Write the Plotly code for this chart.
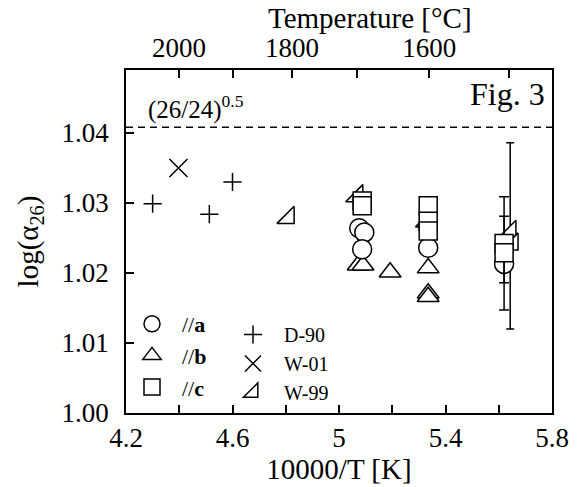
import plotly.graph_objects as go

# ---------------- data ----------------
x_tickvals = [4.2, 4.4, 4.6, 4.8, 5.0, 5.2, 5.4, 5.6, 5.8]
x_ticktext = ["4.2", "", "4.6", "", "5", "", "5.4", "", "5.8"]
y_tickvals = [1.00, 1.01, 1.02, 1.03, 1.04]
y_ticktext = ["1.00", "1.01", "1.02", "1.03", "1.04"]
top_temps_c = [2000, 1900, 1800, 1700, 1600, 1500]
top_ticktext = ["2000", "", "1800", "", "1600", ""]

# //a (circles)
a_x = [5.076, 5.095, 5.087, 5.335, 5.62]
a_y = [1.0264, 1.0258, 1.0234, 1.0236, 1.0213]
# //b (triangles)
b_x = [5.072, 5.09, 5.192, 5.335, 5.335, 5.335]
b_y = [1.0211, 1.0211, 1.0201, 1.0207, 1.0171, 1.0166]
# //c (squares)
c_x = [5.087, 5.087, 5.335, 5.335, 5.335]
c_y = [1.0303, 1.0296, 1.0296, 1.0274, 1.0260]
# //c with error bars
c_err_x = [5.62, 5.62]
c_err_y = [1.0242, 1.0229]
c_err_plus = [0.0067, 0.0052]
c_err_minus = [0.0095, 0.0043]
# D-90
d90_x = [4.30, 4.513, 4.60]
d90_y = [1.0299, 1.0284, 1.0330]
# W-01
w01_x = [4.397]
w01_y = [1.0350]
# W-99
w99_x = [4.81, 5.068, 5.33, 5.651]
w99_y = [1.0279, 1.0310, 1.0274, 1.0241]
# W-99 with error bar
w99_err_x = [5.643]
w99_err_y = [1.0259]
w99_err_plus = [0.0127]
w99_err_minus = [0.0139]

ratio_label = "(26/24)<sup>0.5</sup>"
ratio_value = (26 / 24) ** 0.5

FONT = "Liberation Serif, Times New Roman, serif"
W, H = 581, 487
ML, MR, MT, MB = 126, 29, 70, 74
PW, PH = W - ML - MR, H - MT - MB

def px_x(p):
    return (p - ML) / PW

def px_y(p):
    return (H - MB - p) / PH

def mk(symbol, size):
    return dict(symbol=symbol, size=size, color="white",
                line=dict(color="black", width=1.5))

fig = go.Figure()

# W-99 with error bar (drawn first)
fig.add_trace(go.Scatter(
    x=w99_err_x, y=w99_err_y, mode="markers", showlegend=False,
    marker=mk("triangle-se", 19),
    error_y=dict(type="data", array=w99_err_plus, arrayminus=w99_err_minus,
                 color="black", thickness=1.5, width=4)))
fig.add_trace(go.Scatter(
    x=w99_x, y=w99_y, mode="markers", name="W-99", legend="legend2",
    legendrank=3, marker=mk("triangle-se", 19)))
fig.add_trace(go.Scatter(
    x=d90_x, y=d90_y, mode="markers", name="D-90", legend="legend2",
    legendrank=1,
    marker=dict(symbol="cross-thin-open", size=13, color="black",
                line=dict(color="black", width=1.5))))
fig.add_trace(go.Scatter(
    x=w01_x, y=w01_y, mode="markers", name="W-01", legend="legend2",
    legendrank=2,
    marker=dict(symbol="x-thin-open", size=18, color="black",
                line=dict(color="black", width=1.5))))
fig.add_trace(go.Scatter(
    x=b_x, y=b_y, mode="markers", name="//<b>b</b>", legend="legend",
    legendrank=2, marker=mk("triangle-up", 19)))
fig.add_trace(go.Scatter(
    x=a_x, y=a_y, mode="markers", name="//<b>a</b>", legend="legend",
    legendrank=1, marker=mk("circle", 19)))
fig.add_trace(go.Scatter(
    x=c_err_x, y=c_err_y, mode="markers", showlegend=False,
    marker=mk("square", 18),
    error_y=dict(type="data", array=c_err_plus, arrayminus=c_err_minus,
                 color="black", thickness=1.5, width=5)))
fig.add_trace(go.Scatter(
    x=c_x, y=c_y, mode="markers", name="//<b>c</b>", legend="legend",
    legendrank=3, marker=mk("square", 18)))

# invisible trace for top axis
top_vals = [10000 / (t + 273.15) for t in top_temps_c]
fig.add_trace(go.Scatter(x=[4.2], y=[1.0], xaxis="x2", mode="markers",
                         marker=dict(opacity=0), showlegend=False,
                         hoverinfo="skip"))

fig.add_shape(type="line", xref="x", yref="y", x0=4.2, x1=5.8,
              y0=ratio_value, y1=ratio_value,
              line=dict(color="black", width=1.5, dash="7px,5px"))

fig.add_annotation(text=ratio_label, xref="paper", yref="y", x=px_x(146),
                   y=ratio_value, xanchor="left", yanchor="bottom", yshift=1,
                   showarrow=False, font=dict(family=FONT, size=25, color="black"))
fig.add_annotation(text="Fig. 3", xref="paper", yref="paper", x=px_x(547),
                   y=px_y(74), xanchor="right", yanchor="top", showarrow=False,
                   font=dict(family=FONT, size=32, color="black"))
fig.add_annotation(text="Temperature [°C]", xref="paper", yref="paper",
                   x=px_x(370), y=px_y(18), xanchor="center", yanchor="middle",
                   showarrow=False,
                   font=dict(family=FONT, size=29, color="black"))

axis_common = dict(showline=True, linecolor="black", linewidth=1.6,
                   ticks="inside", ticklen=8, tickwidth=1.5, tickcolor="black",
                   showgrid=False, zeroline=False,
                   tickfont=dict(family=FONT, size=27, color="black"))

fig.update_layout(
    width=W, height=H,
    margin=dict(l=ML, r=MR, t=MT, b=MB),
    paper_bgcolor="white", plot_bgcolor="white",
    font=dict(family=FONT, color="black"),
    xaxis=dict(range=[4.2, 5.8], tickmode="array", tickvals=x_tickvals,
               ticktext=x_ticktext, mirror=False,
               title=dict(text="10000/T [K]", font=dict(family=FONT, size=29),
                          standoff=2),
               **axis_common),
    xaxis2=dict(range=[4.2, 5.8], overlaying="x", side="top",
                tickmode="array", tickvals=top_vals, ticktext=top_ticktext,
                **axis_common),
    yaxis=dict(range=[1.0, 1.049], tickmode="array", tickvals=y_tickvals,
               ticktext=y_ticktext, mirror=True, ticklabelstandoff=10,
               title=dict(text="log(α<sub>26</sub>)",
                          font=dict(family=FONT, size=29), standoff=14),
               **axis_common),
    legend=dict(x=px_x(122), y=px_y(303), itemwidth=50,
                xanchor="left", yanchor="top", bgcolor="rgba(0,0,0,0)",
                font=dict(family=FONT, size=22, color="black"),
                traceorder="normal"),
    legend2=dict(x=px_x(222), y=px_y(315), itemwidth=52,
                 xanchor="left", yanchor="top", bgcolor="rgba(0,0,0,0)",
                 font=dict(family=FONT, size=20, color="black"),
                 traceorder="normal"),
)

fig.write_html("out.html")
